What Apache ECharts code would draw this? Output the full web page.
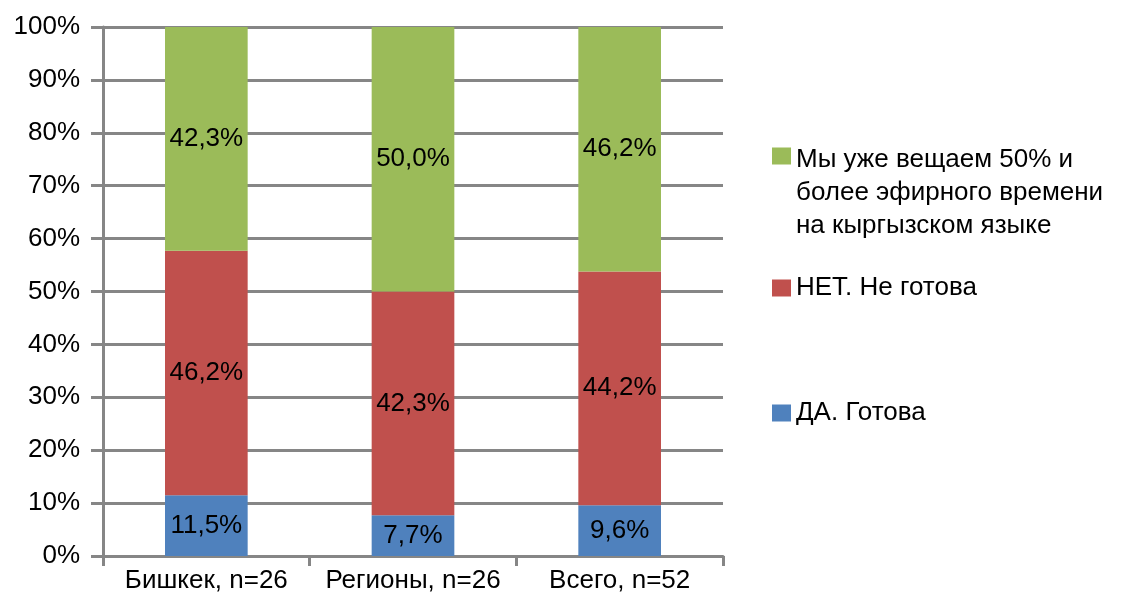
<!DOCTYPE html>
<html>
<head>
<meta charset="utf-8">
<script src="https://cdn.jsdelivr.net/npm/echarts@6/dist/echarts.min.js"></script>
<style>html,body{margin:0;padding:0;background:#fff}#c{width:1123px;height:616px}</style>
</head>
<body>
<div id="c"></div>
<script>
const categories = ['Бишкек, n=26', 'Регионы, n=26', 'Всего, n=52'];
const seriesNames = ['ДА. Готова', 'НЕТ. Не готова', 'Мы уже вещаем 50% и\nболее эфирного времени\nна кыргызском языке'];
const daValues = [11.5, 7.7, 9.6];
const netValues = [46.2, 42.3, 44.2];
const uzheValues = [42.3, 50.0, 46.2];
const colors = ['#4F81BD', '#C0504D', '#9BBB59'];

const FONT = 'Liberation Sans';
const FS = 26;
const fmt = p => p.value.toFixed(1).replace('.', ',') + '%';

function mkSeries(name, data, color) {
  return {
    name: name, type: 'bar', stack: 'total', data: data, barWidth: '40%',
    itemStyle: { color: color },
    label: { show: true, position: 'inside', formatter: fmt, color: '#000', fontFamily: FONT, fontSize: FS },
    emphasis: { disabled: true }
  };
}

const legendText = { fontFamily: FONT, fontSize: FS, color: '#000', lineHeight: 33 };

const chart = echarts.init(document.getElementById('c'), null, { renderer: 'canvas' });
chart.setOption({
  animation: false,
  grid: { left: 103, right: 400, top: 27, bottom: 60, containLabel: false },
  legend: [
    { data: [seriesNames[2]], left: 772, top: 143.5, orient: 'vertical', itemWidth: 19, itemHeight: 99, padding: 0,
      icon: 'path://M0,8h19v17h-19z M0,98h0.01v1h-0.01z',
      selectedMode: false, textStyle: legendText },
    { data: [seriesNames[1]], left: 772, top: 271.5, orient: 'vertical', itemWidth: 19, itemHeight: 17, padding: 0,
      icon: 'rect', selectedMode: false, textStyle: legendText },
    { data: [seriesNames[0]], left: 772, top: 396.5, orient: 'vertical', itemWidth: 19, itemHeight: 17, padding: 0,
      icon: 'rect', selectedMode: false, textStyle: legendText }
  ],
  xAxis: {
    type: 'category', data: categories,
    axisLine: { lineStyle: { color: '#868686', width: 3 } },
    axisTick: { show: true, length: 10, lineStyle: { color: '#868686', width: 3 } },
    axisLabel: { color: '#000', fontFamily: FONT, fontSize: FS, margin: 12, interval: 0 }
  },
  yAxis: {
    type: 'value', min: 0, max: 100, interval: 10,
    axisLine: { show: true, lineStyle: { color: '#868686', width: 3 } },
    axisTick: { show: true, length: 12, lineStyle: { color: '#868686', width: 3 } },
    axisLabel: { color: '#000', fontFamily: FONT, fontSize: FS, margin: 23, formatter: '{value}%' },
    splitLine: { show: true, lineStyle: { color: '#868686', width: 3 } }
  },
  series: [
    mkSeries(seriesNames[0], daValues, colors[0]),
    mkSeries(seriesNames[1], netValues, colors[1]),
    mkSeries(seriesNames[2], uzheValues, colors[2])
  ]
});
</script>
</body>
</html>
